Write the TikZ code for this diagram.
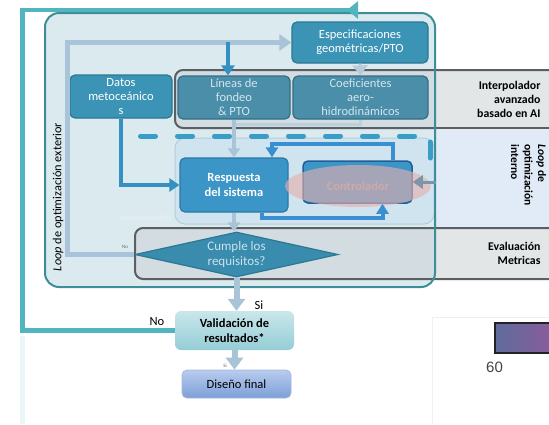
\documentclass[tikz,border=0pt]{standalone}
\usepackage{fontspec}
\setmainfont{Carlito}
\newfontfamily\arialfont{Liberation Sans}
\usetikzlibrary{arrows.meta,shapes.geometric,calc}

\definecolor{outerteal}{HTML}{52B4BF}
\definecolor{regionfill}{HTML}{DBEAEF}
\definecolor{regionline}{HTML}{3E8E9A}
\definecolor{loopgray}{HTML}{A9C3D9}
\definecolor{boxfill}{HTML}{3B94B6}
\definecolor{boxline}{HTML}{2A7894}
\definecolor{dimfill}{HTML}{4A8EAA}
\definecolor{dimline}{HTML}{336E86}
\definecolor{dimtext}{HTML}{D3E6EC}
\definecolor{bandgray}{HTML}{CDD2D5}
\definecolor{bandline}{HTML}{5A5F63}
\definecolor{innerband}{HTML}{E0EBF7}
\definecolor{innerbox}{HTML}{D0E4EF}
\definecolor{innerboxline}{HTML}{B5CCD9}
\definecolor{respfill}{HTML}{3B95C7}
\definecolor{respline}{HTML}{2A78A8}
\definecolor{ctrlline}{HTML}{1F5E9B}
\definecolor{pinkov}{HTML}{E8B0AE}
\definecolor{ctrltext}{HTML}{CDA8AC}
\definecolor{loopblue}{HTML}{3A8FD0}
\definecolor{dashblue}{HTML}{3A9DC8}
\definecolor{feedblue}{HTML}{3390C0}
\definecolor{diafill}{HTML}{3A8CAE}
\definecolor{diatext}{HTML}{C9E3EC}
\definecolor{palearrow}{HTML}{A9C4D6}
\definecolor{palespec}{HTML}{B8CBD9}
\definecolor{sidearrow}{HTML}{7D95A8}
\definecolor{faintarrow}{HTML}{E2EBEF}
\definecolor{validtop}{HTML}{C9E7EB}
\definecolor{validbot}{HTML}{95CDD5}
\definecolor{finaltop}{HTML}{B8CCEE}
\definecolor{finalbot}{HTML}{7C9FD8}
\definecolor{finalline}{HTML}{A3B8DF}
\definecolor{smallgray}{HTML}{666666}
\definecolor{framegray}{HTML}{F0F0F0}
\definecolor{scaleleft}{HTML}{5F6C9C}
\definecolor{scaleright}{HTML}{8E5A9C}
\definecolor{scaleline}{HTML}{222222}
\definecolor{ticktext}{HTML}{444444}

\tikzset{
  txt/.style={font=\fontsize{12.5}{14}\selectfont},
  bigtxt/.style={font=\fontsize{12.5}{15}\selectfont},
  box/.style={txt, draw=boxline, line width=1.2pt, fill=boxfill, rounded corners=5pt,
    text=white, align=center, inner sep=0pt},
  dimbox/.style={box, fill=dimfill, draw=dimline, text=dimtext},
  band/.style={draw=bandline, line width=2pt, fill=bandgray, fill opacity=0.55, rounded corners=8pt},
  bandlabel/.style={font=\fontsize{11.8}{14}\selectfont\bfseries, align=right, anchor=east},
  lightloop/.style={draw=loopgray, line width=5pt},
  feed/.style={draw=feedblue, line width=4pt, -{Triangle[width=13pt,length=10pt]}},
  loopar/.style={draw=loopblue, line width=4pt, -{Triangle[width=12pt,length=10pt]}},
  pale/.style={draw=palearrow, line width=4pt, -{Triangle[width=12pt,length=9pt]}},
  bigpale/.style={draw=palearrow, line width=6pt, -{Triangle[width=17pt,length=12pt]}},
}

\begin{document}
\begin{tikzpicture}[x=1pt,y=-1pt]
\clip (0,0) rectangle (549,424);
\fill[white] (0,0) rectangle (549,424);

% faint glow below the outer loop
\draw[draw=outerteal!12, line width=5pt] (22.5,336) -- (22.5,424);

% region of the outer optimisation loop
\fill[regionfill, rounded corners=14pt] (45,13) rectangle (435,287);
% interpolator band
\draw[band] (175,70) rectangle (575,128);
% inner loop band
\fill[innerband] (436,129.5) rectangle (549,227);
\draw[fill=innerbox, draw=innerboxline, line width=1pt, rounded corners=10pt] (175,138) rectangle (434,224);
% evaluation band
\draw[band] (135,228) rectangle (575,279);
% border of the outer loop region
\draw[regionline, line width=2pt, rounded corners=14pt] (45,13) rectangle (435,287);

% dashed separator of the inner loop
\draw[dashblue, line width=5pt, line cap=round, dash pattern=on 15pt off 22pt] (140.5,136) -- (418,136);
\draw[dashblue, line width=5pt, line cap=round] (430,142) -- (430,158);

% blocks
\node[box, minimum width=136pt, minimum height=41pt] (espec) at (360,42.5) {Especificaciones\\geométricas/PTO};
\node[box, minimum width=102pt, minimum height=43pt] (datos) at (121,96.5) {Datos\\metoceánico\\s};
\node[dimbox, minimum width=112pt, minimum height=43pt] (lineas) at (234,97.5) {Líneas de\\fondeo\\\& PTO};
\node[dimbox, minimum width=135pt, minimum height=43pt] (coef) at (360.5,97.5) {Coeficientes\\aero-\\hidrodinámicos};
\node[box, fill=respfill, draw=respline, font=\fontsize{12.5}{15}\selectfont\bfseries,
      minimum width=108pt, minimum height=54pt] (resp) at (234,185) {Respuesta\\del sistema};
\node[box, fill=respfill, draw=ctrlline, line width=1.5pt, minimum width=109pt, minimum height=42pt] (ctrl) at (357.5,182) {};
\node[ellipse, fill=pinkov, fill opacity=0.62, text opacity=1, text=ctrltext, inner sep=0pt,
      minimum width=146pt, minimum height=42pt, font=\fontsize{12.5}{15}\selectfont\bfseries] (halo) at (358,186) {Controlador};
\node[diamond, aspect=4.5, draw=boxline, line width=1.2pt, fill=diafill, inner sep=0pt,
      minimum width=203pt, minimum height=45pt, text=diatext, align=center, font=\fontsize{13}{14.5}\selectfont] (dia) at (236.5,254.5) {Cumple los\\requisitos?};
\node[font=\fontsize{12.5}{15}\selectfont\bfseries, align=center, rounded corners=6pt,
      top color=validtop, bottom color=validbot, minimum width=119pt, minimum height=39pt, inner sep=0pt]
      (valid) at (234.5,330.5) {Validación de\\resultados*};
\node[bigtxt, rounded corners=5pt, top color=finaltop, bottom color=finalbot, draw=finalline, line width=0.8pt,
      minimum width=109pt, minimum height=28pt, inner sep=0pt] (diseno) at (236.5,384) {Diseño final};

% connectors
\coordinate (lcorner) at (67,0);
\draw[lightloop, -{Triangle[width=16pt,length=12pt]}] (dia.west) -| (lcorner |- espec.west) -- (espec.west);
\coordinate (feedtop) at (228,42);
\draw[feed] (feedtop) -- (feedtop |- lineas.north);
\draw[feed] (datos.south) |- (resp.west);
\draw[pale] (lineas.south) -- (resp.north);
\coordinate (coefjoin) at (236,124);
\draw[draw=palearrow!80, line width=3pt] (coef.south) |- (coefjoin);
\draw[draw=palespec, line width=3pt, -{Triangle[width=15pt,length=10pt]}] (espec.south) -- (coef.north);
\draw[loopar] ([xshift=35pt]ctrl.north) -- ++(0,-16) -| ([xshift=38pt]resp.north);
\draw[loopar] ([xshift=28pt]resp.south) -- ++(0,5) -| ([xshift=25pt]ctrl.south);
\coordinate (ctrlin) at (436,182);
\draw[draw=sidearrow, line width=3pt, -{Triangle[width=13pt,length=10pt]}] (ctrlin) -- (ctrl.east |- ctrlin);
\coordinate (faintA) at (120,218);
\coordinate (faintB) at (172,218);
\draw[draw=faintarrow, line width=4pt, -{Triangle[width=10pt,length=8pt]}] (faintA) -- (faintB);
\draw[pale] (resp.south) -- (resp.south |- dia.north);
\draw[bigpale] (dia.south) -- (dia.south |- valid.north);
\draw[bigpale] (valid.south) -- (valid.south |- diseno.north);

% outer loop back to the geometry specification
\coordinate (oleft) at (22.5,10);
\coordinate (oend) at (358,10);
\draw[outerteal, line width=4.5pt, -{Triangle[reversed,width=17pt,length=11pt]}] (valid.west) -| (oleft) -- (oend);

% labels
\node[bandlabel] (interp) at (544,99) {Interpolador\\avanzado\\basado en AI};
\node[bandlabel] (evalm) at (544,253) {Evaluación\\Metricas};
\node[font=\fontsize{11.5}{13.5}\selectfont\bfseries, align=left, rotate=-90, anchor=west] (inner) at (528.5,141)
  {\textit{Loop} de\\optimización\\interno};
\node[font=\fontsize{12.3}{14}\selectfont, rotate=90] (outer) at (58,197) {\textit{Loop} de optimización exterior};
\node[font=\fontsize{5}{6}\selectfont, text=smallgray] (no1) at (125,247) {No};
\node[bigtxt] (si1) at (259,305) {Si};
\node[bigtxt] (no2) at (157,322) {No};
\node[font=\fontsize{5}{6}\selectfont, text=smallgray] (si2) at (225,366) {Si};

% colour scale fragment
\draw[framegray, line width=0.8pt] (432,424) -- (432,317) -- (549,317);
\draw[left color=scaleleft, right color=scaleright, draw=scaleline, line width=1.5pt] (495,323) rectangle (560,353);
\node[font=\arialfont\fontsize{15}{17}\selectfont, text=ticktext] (tick) at (494.5,367) {60};
\end{tikzpicture}
\end{document}
